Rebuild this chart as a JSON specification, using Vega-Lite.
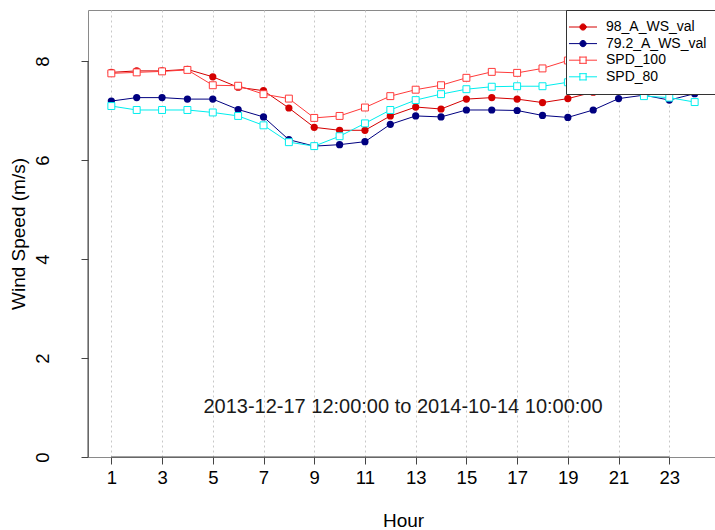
{
  "$schema": "https://vega.github.io/schema/vega-lite/v6.json",
  "width": 630,
  "height": 447,
  "autosize": {"type": "none"},
  "padding": {"left": 88, "top": 10, "right": 0, "bottom": 73},
  "background": "white",
  "config": {
    "view": {"stroke": "#8a8a8a", "strokeWidth": 1},
    "font": "Liberation Sans",
    "axis": {"labelFont": "Liberation Sans", "titleFont": "Liberation Sans", "labelColor": "#000", "titleColor": "#000", "titleFontWeight": "normal"}
  },
  "datasets": {
    "speeds": [
      {"hour": 1, "series": "98_A_WS_val", "value": 7.77},
      {"hour": 2, "series": "98_A_WS_val", "value": 7.8},
      {"hour": 3, "series": "98_A_WS_val", "value": 7.8},
      {"hour": 4, "series": "98_A_WS_val", "value": 7.83},
      {"hour": 5, "series": "98_A_WS_val", "value": 7.68},
      {"hour": 6, "series": "98_A_WS_val", "value": 7.47},
      {"hour": 7, "series": "98_A_WS_val", "value": 7.4},
      {"hour": 8, "series": "98_A_WS_val", "value": 7.05},
      {"hour": 9, "series": "98_A_WS_val", "value": 6.66},
      {"hour": 10, "series": "98_A_WS_val", "value": 6.6},
      {"hour": 11, "series": "98_A_WS_val", "value": 6.6},
      {"hour": 12, "series": "98_A_WS_val", "value": 6.89},
      {"hour": 13, "series": "98_A_WS_val", "value": 7.07},
      {"hour": 14, "series": "98_A_WS_val", "value": 7.03},
      {"hour": 15, "series": "98_A_WS_val", "value": 7.23},
      {"hour": 16, "series": "98_A_WS_val", "value": 7.26},
      {"hour": 17, "series": "98_A_WS_val", "value": 7.23},
      {"hour": 18, "series": "98_A_WS_val", "value": 7.16},
      {"hour": 19, "series": "98_A_WS_val", "value": 7.24},
      {"hour": 20, "series": "98_A_WS_val", "value": 7.37},
      {"hour": 21, "series": "98_A_WS_val", "value": 7.58},
      {"hour": 22, "series": "98_A_WS_val", "value": 7.64},
      {"hour": 23, "series": "98_A_WS_val", "value": 7.55},
      {"hour": 24, "series": "98_A_WS_val", "value": 7.68},
      {"hour": 1, "series": "79.2_A_WS_val", "value": 7.19},
      {"hour": 2, "series": "79.2_A_WS_val", "value": 7.26},
      {"hour": 3, "series": "79.2_A_WS_val", "value": 7.26},
      {"hour": 4, "series": "79.2_A_WS_val", "value": 7.23},
      {"hour": 5, "series": "79.2_A_WS_val", "value": 7.23},
      {"hour": 6, "series": "79.2_A_WS_val", "value": 7.02},
      {"hour": 7, "series": "79.2_A_WS_val", "value": 6.87},
      {"hour": 8, "series": "79.2_A_WS_val", "value": 6.41},
      {"hour": 9, "series": "79.2_A_WS_val", "value": 6.28},
      {"hour": 10, "series": "79.2_A_WS_val", "value": 6.31},
      {"hour": 11, "series": "79.2_A_WS_val", "value": 6.37},
      {"hour": 12, "series": "79.2_A_WS_val", "value": 6.72},
      {"hour": 13, "series": "79.2_A_WS_val", "value": 6.89},
      {"hour": 14, "series": "79.2_A_WS_val", "value": 6.87},
      {"hour": 15, "series": "79.2_A_WS_val", "value": 7.01},
      {"hour": 16, "series": "79.2_A_WS_val", "value": 7.01},
      {"hour": 17, "series": "79.2_A_WS_val", "value": 7.0},
      {"hour": 18, "series": "79.2_A_WS_val", "value": 6.9},
      {"hour": 19, "series": "79.2_A_WS_val", "value": 6.86},
      {"hour": 20, "series": "79.2_A_WS_val", "value": 7.01},
      {"hour": 21, "series": "79.2_A_WS_val", "value": 7.24},
      {"hour": 22, "series": "79.2_A_WS_val", "value": 7.31},
      {"hour": 23, "series": "79.2_A_WS_val", "value": 7.21},
      {"hour": 24, "series": "79.2_A_WS_val", "value": 7.34},
      {"hour": 1, "series": "SPD_100", "value": 7.75},
      {"hour": 2, "series": "SPD_100", "value": 7.77},
      {"hour": 3, "series": "SPD_100", "value": 7.79},
      {"hour": 4, "series": "SPD_100", "value": 7.82},
      {"hour": 5, "series": "SPD_100", "value": 7.51},
      {"hour": 6, "series": "SPD_100", "value": 7.5},
      {"hour": 7, "series": "SPD_100", "value": 7.33},
      {"hour": 8, "series": "SPD_100", "value": 7.24},
      {"hour": 9, "series": "SPD_100", "value": 6.85},
      {"hour": 10, "series": "SPD_100", "value": 6.89},
      {"hour": 11, "series": "SPD_100", "value": 7.06},
      {"hour": 12, "series": "SPD_100", "value": 7.29},
      {"hour": 13, "series": "SPD_100", "value": 7.42},
      {"hour": 14, "series": "SPD_100", "value": 7.51},
      {"hour": 15, "series": "SPD_100", "value": 7.66},
      {"hour": 16, "series": "SPD_100", "value": 7.78},
      {"hour": 17, "series": "SPD_100", "value": 7.76},
      {"hour": 18, "series": "SPD_100", "value": 7.85},
      {"hour": 19, "series": "SPD_100", "value": 8.01},
      {"hour": 20, "series": "SPD_100", "value": 8.1},
      {"hour": 21, "series": "SPD_100", "value": 8.0},
      {"hour": 22, "series": "SPD_100", "value": 7.9},
      {"hour": 23, "series": "SPD_100", "value": 7.8},
      {"hour": 24, "series": "SPD_100", "value": 7.72},
      {"hour": 1, "series": "SPD_80", "value": 7.09},
      {"hour": 2, "series": "SPD_80", "value": 7.01},
      {"hour": 3, "series": "SPD_80", "value": 7.01},
      {"hour": 4, "series": "SPD_80", "value": 7.01},
      {"hour": 5, "series": "SPD_80", "value": 6.96},
      {"hour": 6, "series": "SPD_80", "value": 6.89},
      {"hour": 7, "series": "SPD_80", "value": 6.7},
      {"hour": 8, "series": "SPD_80", "value": 6.36},
      {"hour": 9, "series": "SPD_80", "value": 6.28},
      {"hour": 10, "series": "SPD_80", "value": 6.48},
      {"hour": 11, "series": "SPD_80", "value": 6.74},
      {"hour": 12, "series": "SPD_80", "value": 7.01},
      {"hour": 13, "series": "SPD_80", "value": 7.21},
      {"hour": 14, "series": "SPD_80", "value": 7.33},
      {"hour": 15, "series": "SPD_80", "value": 7.43},
      {"hour": 16, "series": "SPD_80", "value": 7.48},
      {"hour": 17, "series": "SPD_80", "value": 7.49},
      {"hour": 18, "series": "SPD_80", "value": 7.49},
      {"hour": 19, "series": "SPD_80", "value": 7.57},
      {"hour": 20, "series": "SPD_80", "value": 7.6},
      {"hour": 21, "series": "SPD_80", "value": 7.45},
      {"hour": 22, "series": "SPD_80", "value": 7.29},
      {"hour": 23, "series": "SPD_80", "value": 7.26},
      {"hour": 24, "series": "SPD_80", "value": 7.17}
    ]
  },
  "layer": [
    {
      "data": {"values": [{"x": 1, "x2": 23, "y": 0}]},
      "mark": {"type": "rule", "color": "#444", "strokeWidth": 1},
      "encoding": {
        "x": {"field": "x", "type": "quantitative", "scale": {"domain": [0.08, 24.92], "nice": false, "zero": false},
          "axis": {"values": [1,3,5,7,9,11,13,15,17,19,21,23], "title": "Hour", "domain": false, "tickSize": 7, "tickColor": "#444",
            "labelFontSize": 18.5, "labelPadding": 4, "titleFontSize": 19, "titlePadding": 25,
            "grid": true, "gridColor": "#c8c8c8", "gridDash": [2, 3], "gridWidth": 1, "labelFlush": false}},
        "x2": {"field": "x2"},
        "y": {"field": "y", "type": "quantitative", "scale": {"domain": [0, 9.03], "nice": false},
          "axis": {"values": [0,2,4,6,8], "title": "Wind Speed (m/s)", "domain": false, "tickSize": 7, "tickColor": "#444",
            "labelFontSize": 18.5, "labelAngle": 270, "labelAlign": "center", "labelBaseline": "bottom", "labelPadding": 29,
            "titleFontSize": 19, "titlePadding": 5, "grid": false}}
      }
    },
    {
      "data": {"values": [{"x": 0.08, "y": 0, "y2": 8}]},
      "mark": {"type": "rule", "color": "#444", "strokeWidth": 1},
      "encoding": {
        "x": {"field": "x", "type": "quantitative"},
        "y": {"field": "y", "type": "quantitative"},
        "y2": {"field": "y2"}
      }
    },
    {
      "data": {"name": "speeds"},
      "mark": {"type": "line", "strokeWidth": 1},
      "encoding": {
        "x": {"field": "hour", "type": "quantitative"},
        "y": {"field": "value", "type": "quantitative"},
        "color": {"field": "series", "type": "nominal",
          "scale": {"domain": ["98_A_WS_val", "79.2_A_WS_val", "SPD_100", "SPD_80"], "range": ["#d40000", "#000080", "#ff3a3a", "#00eeee"]},
          "legend": {
            "title": null, "orient": "none", "legendX": 478, "legendY": 0,
            "fillColor": "white", "strokeColor": "#333", "padding": 10,
            "labelFont": "Liberation Sans", "labelFontSize": 14, "labelColor": "#000", "labelOffset": 16,
            "rowPadding": 2.6, "symbolOffset": 0, "symbolSize": 108, "symbolStrokeWidth": 1,
            "encode": {
              "symbols": {
                "update": {
                  "shape": {"signal": "(datum.value === '98_A_WS_val' || datum.value === '79.2_A_WS_val') ? 'M-2.6,0H-0.6M0.6,0A0.6,0.6,0,1,1,-0.6,0A0.6,0.6,0,1,1,0.6,0ZM0.6,0H2.6' : 'M-2.6,0H-0.6M-0.6,-0.6H0.6M0.6,-0.6V0.6M0.6,0.6H-0.6M-0.6,0.6V-0.6M0.6,0H2.6'"},
                  "strokeWidth": {"value": 1},
                  "strokeCap": {"value": "square"}
                }
              }
            }
          }},
        "order": {"field": "hour", "type": "quantitative"}
      }
    },
    {
      "data": {"name": "speeds"},
      "transform": [{"filter": "datum.series === '98_A_WS_val' || datum.series === '79.2_A_WS_val'"}],
      "mark": {"type": "point", "shape": "circle", "filled": true, "size": 52, "opacity": 1},
      "encoding": {
        "x": {"field": "hour", "type": "quantitative"},
        "y": {"field": "value", "type": "quantitative"},
        "color": {"field": "series", "type": "nominal", "legend": null}
      }
    },
    {
      "data": {"name": "speeds"},
      "transform": [{"filter": "datum.series === 'SPD_100' || datum.series === 'SPD_80'"}],
      "mark": {"type": "point", "shape": "square", "filled": false, "fill": "white", "fillOpacity": 1, "size": 48, "strokeWidth": 1, "opacity": 1},
      "encoding": {
        "x": {"field": "hour", "type": "quantitative"},
        "y": {"field": "value", "type": "quantitative"},
        "stroke": {"field": "series", "type": "nominal", "scale": {"domain": ["98_A_WS_val", "79.2_A_WS_val", "SPD_100", "SPD_80"], "range": ["#d40000", "#000080", "#ff3a3a", "#00eeee"]}, "legend": null}
      }
    },
    {
      "data": {"values": [{"hour": 12.5, "value": 1, "label": "2013-12-17 12:00:00 to 2014-10-14 10:00:00"}]},
      "mark": {"type": "text", "font": "Liberation Sans", "fontSize": 20, "color": "#1a1a1a", "align": "center", "baseline": "middle"},
      "encoding": {
        "x": {"field": "hour", "type": "quantitative"},
        "y": {"field": "value", "type": "quantitative"},
        "text": {"field": "label"}
      }
    }
  ]
}
